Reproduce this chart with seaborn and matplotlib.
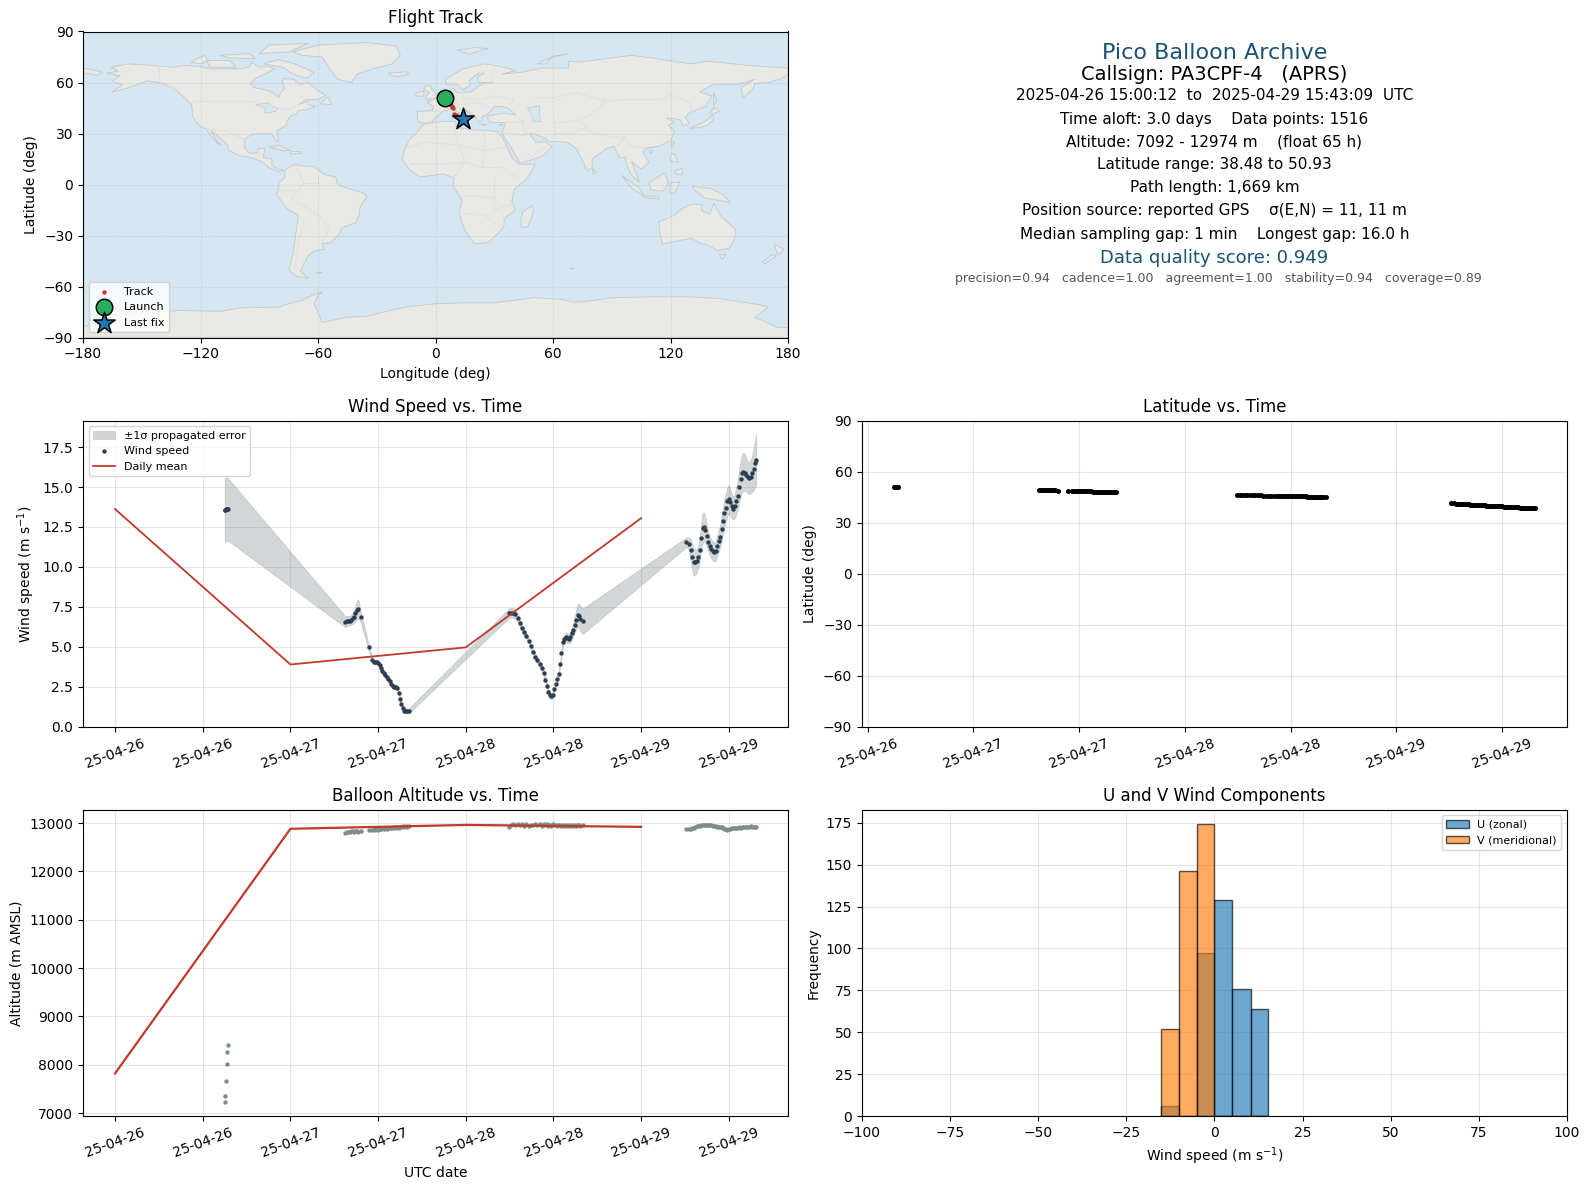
import matplotlib
matplotlib.use("Agg")
import matplotlib.dates as mdates
import matplotlib.pyplot as plt
import pandas as pd
import seaborn as sns

# hours since 2025-04-26 00:00 UTC
hours = [
    15.0, 15.1, 15.2, 15.3, 15.35, 15.45,
    31.5, 31.7, 31.9, 32.1, 32.3, 32.5, 32.7, 32.9, 33.1, 33.3, 33.6, 34.7,
    35.2, 35.4, 35.6, 35.8, 36.0, 36.2, 36.4, 36.6, 36.8, 37.0, 37.2, 37.4, 37.6,
    37.8, 38.0, 38.2, 38.4, 38.6, 38.8, 39.0, 39.2, 39.4, 39.6, 39.8, 40.0, 40.2,
    53.9, 54.2, 54.5, 54.8, 55.1, 55.4, 55.7, 56.0, 56.3, 56.6, 56.9, 57.2, 57.5,
    57.8, 58.1, 58.4, 58.7, 58.9, 59.1, 59.3, 59.5, 59.7, 59.9, 60.1, 60.3, 60.5,
    60.7, 60.9, 61.1, 61.3, 61.5, 61.7, 61.9, 62.1, 62.3, 62.5, 62.7, 62.9, 63.1,
    63.3, 63.5, 63.7, 64.0,
    78.2, 78.5, 78.8, 79.0, 79.2, 79.4, 79.6, 79.8, 80.0, 80.2, 80.4, 80.6, 80.8,
    81.0, 81.2, 81.4, 81.6, 81.8, 82.0, 82.2, 82.4, 82.6, 82.8, 83.0, 83.2, 83.4,
    83.6, 83.8, 84.0, 84.2, 84.4, 84.6, 84.8, 85.0, 85.2, 85.4, 85.6, 85.8, 86.0,
    86.2, 86.4, 86.6, 86.8, 87.0, 87.2, 87.4, 87.6, 87.72,
]
wind_speed = [
    13.55, 13.58, 13.6, 13.6, 13.6, 13.6,
    6.58, 6.60, 6.62, 6.65, 6.70, 6.78, 6.90, 7.10, 7.30, 7.38, 6.90, 5.00,
    4.15, 4.08, 4.05, 4.05, 4.00, 3.85, 3.65, 3.47, 3.35, 3.22, 3.10, 2.97, 2.85,
    2.70, 2.55, 2.50, 2.48, 2.45, 2.10, 1.75, 1.40, 1.15, 1.02, 1.00, 1.00, 1.00,
    7.10, 7.15, 7.12, 7.05, 6.80, 6.50, 6.17, 5.95, 5.70, 5.40, 5.03, 4.70, 4.37,
    4.15, 3.95, 3.70, 3.37, 2.95, 2.54, 2.20, 1.98, 1.90, 2.00, 2.35, 2.70, 3.00,
    3.30, 3.90, 4.60, 5.30, 5.50, 5.60, 5.55, 5.50, 5.60, 5.85, 6.07, 6.40, 6.70,
    7.00, 6.95, 6.75, 6.60,
    11.55, 11.45, 11.05, 10.6, 10.3, 10.3, 10.35, 10.6, 11.05, 11.8, 12.45, 12.5, 12.3,
    11.95, 11.55, 11.3, 11.1, 11.0, 10.95, 11.0, 11.3, 11.6, 11.9, 12.4, 12.9, 13.4,
    13.7, 14.1, 14.25, 14.05, 13.8, 13.65, 13.8, 14.1, 14.45, 15.0, 15.5, 15.9, 15.95,
    15.9, 15.75, 15.6, 15.55, 15.65, 15.85, 16.1, 16.5, 16.7,
]
wind_sigma = [
    2.0, 2.0, 2.0, 2.0, 2.0, 1.95,
    0.35, 0.35, 0.3, 0.3, 0.3, 0.35, 0.4, 0.5, 0.6, 0.6, 0.35, 0.2,
    0.15, 0.15, 0.15, 0.15, 0.15, 0.15, 0.15, 0.15, 0.15, 0.15, 0.15, 0.15, 0.15,
    0.15, 0.15, 0.15, 0.15, 0.15, 0.15, 0.15, 0.15, 0.15, 0.15, 0.15, 0.15, 0.15,
    0.3, 0.3, 0.3, 0.25, 0.25, 0.2, 0.2, 0.2, 0.2, 0.2, 0.2, 0.2, 0.2,
    0.2, 0.2, 0.2, 0.2, 0.2, 0.2, 0.2, 0.2, 0.2, 0.2, 0.2, 0.2, 0.2,
    0.2, 0.2, 0.2, 0.25, 0.25, 0.3, 0.3, 0.3, 0.35, 0.35, 0.4, 0.5, 0.6,
    0.7, 0.75, 0.8, 0.8,
    0.3, 0.4, 0.7, 0.85, 0.85, 0.8, 0.7, 0.7, 0.7, 0.8, 0.95, 0.9, 0.8,
    0.7, 0.6, 0.6, 0.6, 0.6, 0.6, 0.6, 0.65, 0.7, 0.7, 0.8, 0.85, 0.9,
    0.9, 0.9, 0.9, 0.85, 0.75, 0.7, 0.75, 0.85, 0.95, 1.05, 1.15, 1.2, 1.2,
    1.15, 1.05, 1.0, 1.0, 1.05, 1.15, 1.3, 1.5, 1.6,
]
altitude = [
    7227, 7357, 7667, 8017, 8265, 8409,
    12795, 12810, 12820, 12805, 12825, 12830, 12810, 12825, 12835, 12820, 12830, 12860,
    12855, 12875, 12860, 12880, 12865, 12885, 12870, 12890, 12880, 12895, 12885, 12900, 12890,
    12905, 12895, 12910, 12900, 12915, 12905, 12925, 12910, 12930, 12915, 12930, 12925, 12935,
    12925, 12960, 12980, 12965, 12985, 12950, 12975, 12945, 12970, 12940, 12965, 12950, 12975,
    12960, 12985, 12945, 12970, 12955, 12975, 12940, 12960, 12945, 12970, 12950, 12965, 12940,
    12955, 12960, 12945, 12965, 12935, 12960, 12945, 12965, 12940, 12960, 12945, 12965, 12935,
    12955, 12960, 12945, 12955,
    12870, 12875, 12885, 12895, 12905, 12915, 12930, 12940, 12945, 12950, 12960, 12955, 12965,
    12960, 12965, 12955, 12950, 12945, 12940, 12930, 12925, 12925, 12915, 12915, 12905, 12885,
    12870, 12860, 12875, 12885, 12895, 12900, 12895, 12905, 12900, 12910, 12905, 12915, 12910,
    12920, 12915, 12925, 12920, 12930, 12915, 12925, 12910, 12920,
]
latitude = [
    50.93, 50.93, 50.93, 50.93, 50.93, 50.93,
    49.3, 49.3, 49.3, 49.3, 49.3, 49.3, 49.3, 49.3, 49.3, 49.3, 48.7, 48.7,
    48.7, 48.7, 48.7, 48.7, 48.7, 48.7, 48.7, 48.7, 48.7, 48.7, 48.7, 48.7, 48.2,
    48.2, 48.2, 48.2, 48.2, 48.2, 48.2, 48.2, 48.2, 48.2, 48.2, 48.2, 48.2, 48.2,
    46.4, 46.4, 46.4, 46.4, 46.4, 46.4, 46.4, 46.4, 46.4, 46.4, 45.8, 45.8, 45.8,
    45.8, 45.8, 45.8, 45.8, 45.8, 45.8, 45.8, 45.8, 45.8, 45.8, 45.8, 45.8, 45.8,
    45.8, 45.8, 45.8, 45.8, 45.8, 45.8, 45.2, 45.2, 45.2, 45.2, 45.2, 45.2, 45.2,
    45.2, 45.2, 45.2, 45.2,
    41.7, 41.7, 41.0, 41.0, 41.0, 41.0, 41.0, 41.0, 41.0, 41.0, 40.4, 40.4, 40.4,
    40.4, 40.4, 40.4, 40.4, 40.4, 40.4, 39.9, 39.9, 39.9, 39.9, 39.9, 39.9, 39.9,
    39.9, 39.9, 39.9, 39.3, 39.3, 39.3, 39.3, 39.3, 39.3, 39.3, 39.3, 39.3, 38.6,
    38.6, 38.6, 38.6, 38.6, 38.6, 38.6, 38.6, 38.6, 38.48,
]

mean_hours = [0, 24, 48, 72]
mean_wind = [13.62, 3.9, 4.97, 13.05]
mean_altitude = [7820, 12880, 12960, 12920]

# histogram bars
bin_edges = [-15.1, -10.0, -4.9, 0.0, 5.1, 10.3, 15.1]
bin_mids = [-12.5, -7.5, -2.5, 2.5, 7.5, 12.5]
u_counts = [6, 0, 97, 129, 76, 64]
v_counts = [52, 146, 174, 0, 0, 0]

track_lon = [4.6, 5.5, 6.2, 7.0, 7.6, 8.2, 8.5, 9.0, 9.5, 10.5, 11.2, 12.0, 13.0, 14.0]
track_lat = [50.93, 49.3, 48.7, 48.2, 47.3, 46.4, 45.8, 45.2, 41.7, 41.0, 40.4, 39.9, 39.3, 38.48]
launch_lonlat = (4.6, 50.93)
last_lonlat = (14.0, 38.48)

# rough coastlines, lon/lat
north_america = [(-168, 65.5), (-162, 66.5), (-164, 68), (-166, 68.8), (-157, 71), (-150, 70.5), (-141, 69.7), (-135, 69),
                 (-128, 70), (-120, 69.5), (-115, 68), (-108, 68), (-100, 68), (-95, 69), (-94, 72), (-90, 69), (-85, 69.5),
                 (-82, 68), (-87, 65), (-92, 62.5), (-94.5, 59), (-92.5, 57), (-85, 55.3), (-82, 53), (-80, 51.3), (-79, 54),
                 (-77, 56.5), (-78, 59), (-78, 62.3), (-72, 61.8), (-69.5, 59), (-65, 60), (-61, 56), (-56, 52.5), (-60, 50),
                 (-66, 50), (-70, 47), (-65, 49), (-65, 47), (-61, 46), (-66, 44), (-70, 43.5), (-71, 41.5), (-74, 40.5),
                 (-76, 37), (-76, 35), (-81, 31.5), (-80, 26), (-81, 25.2), (-82.7, 28), (-84, 30), (-89, 30), (-94, 29.5),
                 (-97.3, 27), (-97.7, 22), (-95, 18.5), (-91, 18.5), (-90.5, 21), (-87, 21.5), (-88, 16), (-83.5, 15),
                 (-83.5, 11), (-80, 9), (-77.5, 8.5), (-80, 7.5), (-85, 10), (-88, 13), (-94, 16), (-100, 17), (-105.5, 20),
                 (-106, 23), (-112, 29.5), (-114.7, 31.5), (-112, 26), (-109.5, 23), (-112, 25), (-115, 29), (-117, 32.5),
                 (-120.5, 34.5), (-124, 40), (-124.5, 47), (-128, 51), (-133, 56), (-139, 59.5), (-147, 61), (-152, 59),
                 (-158, 56.5), (-165, 54.5), (-160, 58.5), (-165, 61), (-161, 64)]
south_america = [(-77, 8.5), (-72, 12), (-68, 11), (-62, 10.5), (-57, 6), (-51, 4.5), (-50, 0), (-44, -2.5), (-37, -4.8),
                 (-35, -7), (-38.5, -13), (-39, -18), (-41, -22.5), (-48, -25.5), (-49, -29), (-54, -34.5), (-58, -34.5),
                 (-57, -38), (-62, -39), (-65, -42), (-67, -46), (-69, -51), (-65, -55), (-71, -54), (-75, -50), (-73, -42),
                 (-71.5, -30), (-70, -18), (-76, -14), (-81, -6), (-80, -2), (-80, 1), (-77, 4)]
africa = [(-6, 35.8), (3, 37), (10, 37.3), (11, 33.5), (20, 32), (25, 32), (32, 31), (34, 28), (37, 21), (39.5, 15), (43, 12),
          (51, 12), (47, 4), (40, -3), (39, -10), (40.5, -15), (35, -20), (35, -24), (32.5, -28), (27, -34), (20, -34.8),
          (18, -32), (15, -27), (12, -17), (13.5, -9), (9, -1), (9.5, 4), (4, 6.3), (-4, 5), (-8, 4.5), (-13, 8.5),
          (-17, 14.7), (-16, 20), (-13, 27), (-10, 30)]
eurasia = [(-5.5, 36), (-9, 37), (-9.5, 43), (-1.5, 43.5), (-1, 46), (-4.5, 48.5), (2, 51), (7, 53.5), (8.5, 57), (11, 54),
           (18, 54.5), (21, 57), (24, 59.5), (30, 60), (22, 60), (21.5, 63), (25, 65.5), (22, 65.5), (17, 61), (18, 59),
           (14, 55.5), (11, 59), (5.5, 59), (5, 62), (14, 68), (25, 71), (33, 69.5), (41, 67), (34, 65), (44, 66),
           (54, 68.5), (68, 68.5), (68, 72.5), (73, 72), (80, 73), (100, 76), (113, 74), (130, 71), (140, 72.5), (160, 70),
           (180, 68.5), (180, 65), (177, 62.5), (170, 60), (163, 59.5), (162, 56), (157, 51), (156, 57), (163, 62), (155, 59),
           (142, 59), (135, 54.5), (141, 52), (138, 46), (130, 42.5), (127.5, 39.5), (129.5, 36), (126.5, 34.5), (125, 38),
           (121, 39), (118, 39), (122, 37), (119, 35), (122, 31), (120, 26), (114, 22.5), (108, 21.5), (106, 19), (109, 13),
           (105, 9), (100, 13.5), (103, 5), (104, 1.5), (100.5, 5), (98, 10), (97, 16), (94, 16), (91, 22.5), (87, 21),
           (80, 15), (80, 10), (77.5, 8), (73, 19), (72, 21), (67, 25), (57, 25.5), (56.5, 27), (50, 30), (48, 30), (51, 25),
           (56, 25), (59.5, 22.5), (55, 17), (45, 13), (43, 13), (39, 21), (35, 28), (34, 31), (36, 36.5), (30, 36.5),
           (27, 37), (26.5, 40), (29, 41), (35, 42), (41, 41), (37, 45), (33, 46), (30, 46), (28, 43), (26, 41), (23.5, 40),
           (24, 38), (22.5, 36.5), (19.5, 41), (13.5, 45.5), (18.5, 40), (16, 38), (12, 42), (8.5, 44.5), (3.5, 43),
           (0, 39.5), (-2, 36.7)]
australia = [(114, -22), (122, -18), (126, -14), (131, -11.5), (136, -12), (136, -15.5), (140, -17.5), (142, -11), (146, -19),
             (153, -26), (153, -31), (150, -37.5), (144, -38.7), (138, -35), (135, -34.5), (131, -31.5), (124, -33), (116, -35),
             (115, -31)]
antarctica = [(-180, -90), (-180, -84), (-165, -77), (-150, -75.5), (-130, -74), (-110, -74.5), (-100, -72.5), (-80, -72),
              (-75, -70), (-68, -68), (-63, -65), (-57.5, -63), (-60, -65), (-62, -70), (-60, -75), (-58, -81), (-45, -78),
              (-35, -77.5), (-27, -75), (-15, -72), (0, -70), (15, -69.5), (30, -69.5), (50, -66.5), (65, -67.5), (70, -69),
              (75, -69), (90, -66.5), (110, -66), (130, -66), (145, -67), (165, -70.5), (170, -72), (163, -78), (175, -84),
              (180, -84), (180, -90)]
greenland = [(-73, 78), (-60, 82), (-35, 83.5), (-20, 81.5), (-18, 76), (-22, 71), (-32, 68), (-40, 65), (-43, 60), (-50, 62),
             (-54, 68), (-58, 75), (-68, 76)]
islands = [
    [(-80, 73.5), (-72, 71), (-62, 66), (-66, 62.5), (-73, 65), (-78, 69), (-88, 71)],
    [(-117, 73), (-105, 73), (-102, 69), (-115, 69)],
    [(-90, 77), (-85, 82), (-65, 83), (-75, 78)],
    [(-125, 72), (-118, 76), (-116, 73), (-120, 71)],
    [(-110, 76), (-95, 77), (-92, 74), (-105, 74.5)],
    [(-59, 47.5), (-55, 51.5), (-53, 47)],
    [(-85, 22), (-80, 23), (-74, 20), (-78, 20)],
    [(-74, 19.5), (-69, 19.5), (-68.5, 18.5), (-74, 18)],
    [(-61, -51.5), (-58, -51.5), (-59, -52.2)],
    [(-180, 68.5), (-175, 67.5), (-170, 66), (-173, 64.3), (-178, 65.5), (-180, 65)],
    [(-5, 50), (1.5, 51.3), (0, 53.5), (-2, 56), (-2, 57.5), (-5, 58.5), (-6, 56), (-3, 54), (-5, 52)],
    [(-10, 52), (-6, 52), (-6, 55), (-10, 54)],
    [(-24, 65.5), (-15, 66.3), (-13.5, 65), (-19, 63.4), (-22.5, 64)],
    [(11, 79), (20, 80.5), (27, 80), (17, 76.8)],
    [(52, 71), (57, 74), (68, 77), (60, 75.5), (56, 71)],
    [(12.5, 38), (15.5, 38), (15, 36.7)],
    [(8.2, 41), (9.7, 41), (9.5, 39), (8.4, 39)],
    [(23.5, 35.5), (26.3, 35.3), (24, 35)],
    [(32.3, 35), (34.5, 35.6), (33.5, 34.6)],
    [(49.5, -12), (50, -16), (47, -25), (44, -25), (43.5, -21), (44.5, -16)],
    [(80, 9.5), (82, 7.5), (80.5, 6)],
    [(95, 5.5), (104, -2), (106, -6), (101, -3)],
    [(105.5, -6.5), (114, -7), (114, -8.5), (106, -7.5)],
    [(109, 1), (117, 7), (119, 1), (116, -4), (110, -3)],
    [(120, 1), (125, 1.5), (122, -5), (119.5, -5)],
    [(131, -1), (141, -2.5), (147, -6), (150.5, -10.5), (143, -9), (138, -8), (133, -4)],
    [(120, 18), (122, 18), (124, 13), (120, 14)],
    [(122, 8), (126, 9.5), (126, 6), (123, 6)],
    [(120, 25), (122, 25), (121, 22)],
    [(109, 20), (111, 20), (110, 18.2)],
    [(130, 33), (135, 35.5), (140, 39), (141.5, 41), (142, 38), (139, 35), (135, 33.5)],
    [(140, 42), (142, 45.5), (145, 43), (141, 41.5)],
    [(142, 54), (143.5, 50), (142, 46), (142, 50)],
    [(145, -41), (148, -41), (147, -43.5), (146, -43.5)],
    [(173, -35), (178, -38), (175, -41.5), (174, -39)],
    [(172, -41), (174, -42), (168, -46.5), (167, -45.5)],
    [(68.8, -49), (70.5, -49.3), (69.5, -49.8)],
]
caspian = [(47, 45), (53, 46.5), (53, 40), (54, 37), (50, 37), (49, 41)]
great_lakes = [(-92, 47), (-85, 48), (-84, 46), (-80, 45), (-82, 43), (-87, 42), (-87, 45)]
borders = [
    [(-141, 69.7), (-141, 60), (-133, 56)],
    [(-124, 49), (-95, 49), (-84, 46), (-76, 44), (-70, 47)],
    [(-117, 32.5), (-106, 31.5), (-97.3, 26)],
    [(-92, 15), (-90, 18), (-88, 18)],
    [(-72, 12), (-67, 1), (-70, -4), (-74, -8), (-69, -11), (-58, -20), (-54, -26), (-58, -34)],
    [(-80, -3), (-70, -4)],
    [(-60, 5), (-60, 1), (-67, 1)],
    [(-70, -18), (-67, -23), (-70, -33), (-72, -50)],
    [(-17, 21), (-5, 25), (12, 23), (25, 20), (36, 22)],
    [(25, 32), (25, 20), (24, 10), (34, 10), (42, 4)],
    [(-13, 12), (3, 12), (15, 13), (24, 10)],
    [(9, 4), (15, 13), (12, 23), (10, 30), (10, 37)],
    [(12, -6), (30, -8), (30, -15), (40, -11)],
    [(12, -17), (25, -18), (33, -25)],
    [(30, 5), (30, -8)],
    [(-2, 43), (3, 43)],
    [(2, 51), (8, 48), (7, 44)],
    [(7, 53.5), (8, 48), (13, 47), (22, 48), (29, 45)],
    [(14, 54), (14, 51), (24, 50), (30, 52), (40, 50), (38, 47)],
    [(28, 60), (30, 69)],
    [(50, 51), (60, 51), (72, 54), (87, 49), (97, 50), (115, 50), (120, 53), (130, 48), (131, 43)],
    [(87, 49), (80, 42), (74, 38), (78, 32), (88, 28), (97, 28), (98, 24), (102, 22), (108, 21.5)],
    [(97, 28), (92, 22)],
    [(61, 36), (61, 25)],
    [(61, 36), (74, 38)],
    [(61, 30), (70, 30), (74, 33), (78, 32)],
    [(44, 38), (46, 30), (48, 30)],
    [(36, 36.5), (44, 37), (48, 39)],
    [(34, 31), (44, 29), (48, 30)],
    [(45, 13), (52, 19), (56, 22)],
]

LINE_RED = "#c0392b"
NAVY = "#2c3e50"
SLATE = "#7f8c8d"
TITLE_BLUE = "#1a5276"
GREEN = "#27ae60"
BAR_EDGE = (0, 0, 0, 0.65)

base = pd.Timestamp("2025-04-26")
df = pd.DataFrame({
    "time": base + pd.to_timedelta(hours, unit="h"),
    "wind": wind_speed,
    "sigma": wind_sigma,
    "alt": altitude,
    "lat": latitude,
})
daily = pd.DataFrame({
    "time": base + pd.to_timedelta(mean_hours, unit="h"),
    "wind": mean_wind,
    "alt": mean_altitude,
})

fig, axes = plt.subplots(3, 2, figsize=(15.9, 11.89), dpi=100)
fig.subplots_adjust(left=83 / 1590, right=1567 / 1590, top=1 - 31.5 / 1189, bottom=1 - 1116 / 1189,
                    wspace=0.1048, hspace=0.271)
ax_map, ax_info = axes[0]
ax_wind, ax_lat = axes[1]
ax_alt, ax_hist = axes[2]


def format_time_axis(ax):
    ax.xaxis.set_major_locator(mdates.HourLocator(byhour=[0, 12]))
    ax.xaxis.set_major_formatter(mdates.DateFormatter("%y-%m-%d"))
    ax.tick_params(axis="x", rotation=20)
    ax.grid(True, color="gray", alpha=0.2, lw=0.8)
    ax.set_axisbelow(True)


# Map
ax_map.set_facecolor("#d4e6f1")
for poly in [north_america, south_america, africa, eurasia, australia, antarctica, greenland] + islands:
    ax_map.fill(*zip(*poly), facecolor="#e8e8e4", edgecolor="#c4c8ca", lw=0.6, zorder=1)
for poly in [caspian, great_lakes]:
    ax_map.fill(*zip(*poly), facecolor="#d4e6f1", edgecolor="#c4c8ca", lw=0.5, zorder=1.1)
for line in borders:
    ax_map.plot(*zip(*line), color="#dddfdd", lw=0.6, zorder=1.2)
ax_map.grid(True, color="gray", alpha=0.2, lw=0.5, ls="--")
sns.scatterplot(x=track_lon, y=track_lat, s=10, color=LINE_RED, linewidth=0, label="Track", zorder=3, ax=ax_map)
sns.scatterplot(x=[launch_lonlat[0]], y=[launch_lonlat[1]], s=140, color=GREEN, edgecolor="k", linewidth=1.1,
                label="Launch", zorder=4, ax=ax_map)
sns.scatterplot(x=[last_lonlat[0]], y=[last_lonlat[1]], s=260, marker="*", color="#1f77b4", edgecolor="k", linewidth=1.1,
                label="Last fix", zorder=5, ax=ax_map)
ax_map.set_xlim(-180, 180)
ax_map.set_ylim(-90, 90)
ax_map.set_xticks(range(-180, 181, 60))
ax_map.set_yticks(range(-90, 91, 30))
ax_map.set_xlabel("Longitude (deg)")
ax_map.set_ylabel("Latitude (deg)")
ax_map.set_title("Flight Track")
ax_map.legend(loc="lower left", fontsize=8)

# Summary panel
ax_info.axis("off")
info_lines = [
    (0.5, 0.930, "Pico Balloon Archive", 16, TITLE_BLUE),
    (0.5, 0.858, "Callsign: PA3CPF-4   (APRS)", 14, "k"),
    (0.5, 0.790, "2025-04-26 15:00:12  to  2025-04-29 15:43:09  UTC", 11, "k"),
    (0.5, 0.714, "Time aloft: 3.0 days    Data points: 1516", 11, "k"),
    (0.5, 0.640, "Altitude: 7092 - 12974 m    (float 65 h)", 11, "k"),
    (0.5, 0.566, "Latitude range: 38.48 to 50.93", 11, "k"),
    (0.5, 0.490, "Path length: 1,669 km", 11, "k"),
    (0.5, 0.414, "Position source: reported GPS    σ(E,N) = 11, 11 m", 11, "k"),
    (0.5, 0.338, "Median sampling gap: 1 min    Longest gap: 16.0 h", 11, "k"),
    (0.5, 0.259, "Data quality score: 0.949", 13, TITLE_BLUE),
    (0.506, 0.193, "precision=0.94   cadence=1.00   agreement=1.00   stability=0.94   coverage=0.89", 9, "#555555"),
]
for x, y, txt, size, col in info_lines:
    ax_info.text(x, y, txt, fontsize=size, color=col, ha="center", va="center", transform=ax_info.transAxes)

# Wind speed
ax_wind.fill_between(df["time"], df["wind"] - df["sigma"], df["wind"] + df["sigma"], color=SLATE, alpha=0.35, lw=0.5,
                     label="±1σ propagated error")
sns.scatterplot(data=df, x="time", y="wind", s=10, color=NAVY, linewidth=0, label="Wind speed", ax=ax_wind)
sns.lineplot(data=daily, x="time", y="wind", color=LINE_RED, lw=1.3, errorbar=None, label="Daily mean", ax=ax_wind)
format_time_axis(ax_wind)
ax_wind.set_ylim(0, 19.15)
ax_wind.set_xlabel("")
ax_wind.set_ylabel("Wind speed (m s$^{-1}$)")
ax_wind.set_title("Wind Speed vs. Time")
ax_wind.legend(loc="upper left", fontsize=8)

# Latitude
sns.scatterplot(data=df, x="time", y="lat", s=13, color="k", linewidth=0, ax=ax_lat)
format_time_axis(ax_lat)
ax_lat.set_ylim(-90, 90)
ax_lat.set_yticks(range(-90, 91, 30))
ax_lat.set_xlabel("")
ax_lat.set_ylabel("Latitude (deg)")
ax_lat.set_title("Latitude vs. Time")

# Altitude
sns.scatterplot(data=df, x="time", y="alt", s=10, color=SLATE, linewidth=0, ax=ax_alt)
sns.lineplot(data=daily, x="time", y="alt", color=LINE_RED, lw=1.6, errorbar=None, ax=ax_alt)
format_time_axis(ax_alt)
ax_alt.set_xlabel("UTC date")
ax_alt.set_ylabel("Altitude (m AMSL)")
ax_alt.set_title("Balloon Altitude vs. Time")

# U and V histogram
sns.histplot(x=bin_mids, weights=u_counts, bins=bin_edges, color="#1f77b4", alpha=0.65, edgecolor=BAR_EDGE, linewidth=1,
             label="U (zonal)", ax=ax_hist)
sns.histplot(x=bin_mids, weights=v_counts, bins=bin_edges, color="#ff7f0e", alpha=0.65, edgecolor=BAR_EDGE, linewidth=1,
             label="V (meridional)", ax=ax_hist)
ax_hist.set_xlim(-100, 100)
ax_hist.set_ylim(0, 182.7)
ax_hist.grid(True, color="gray", alpha=0.2, lw=0.8)
ax_hist.set_axisbelow(True)
ax_hist.set_xlabel("Wind speed (m s$^{-1}$)")
ax_hist.set_ylabel("Frequency")
ax_hist.set_title("U and V Wind Components")
ax_hist.legend(loc="upper right", fontsize=8)

fig.savefig("out.png", dpi=100)
